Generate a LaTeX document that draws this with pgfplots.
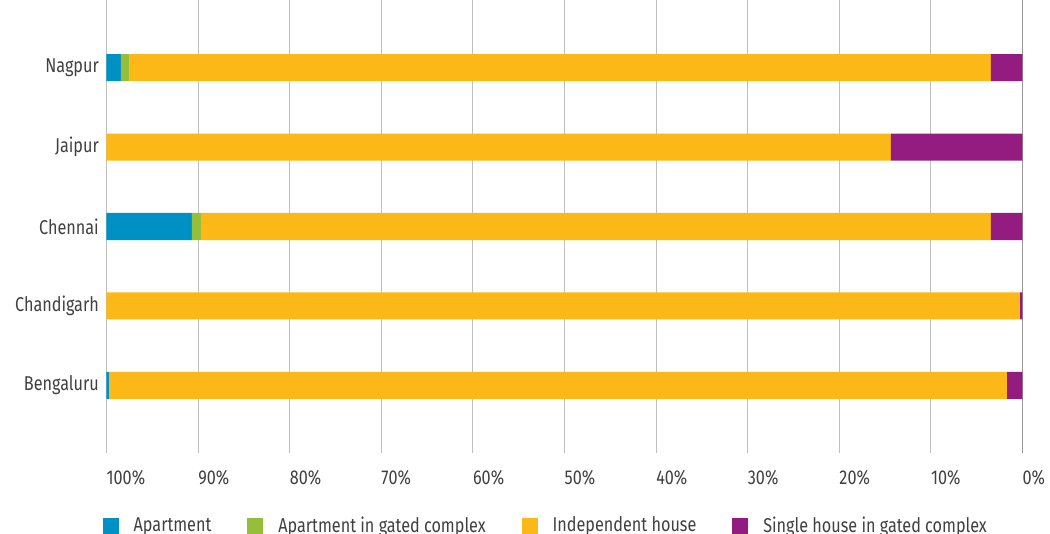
\documentclass[border=0pt]{standalone}
\usepackage{fontspec}
\setmainfont{Fira Sans}[FakeStretch=0.81]
\usepackage{pgfplots}
\pgfplotsset{compat=1.18}
\definecolor{cBlue}{HTML}{0091C4}
\definecolor{cGreen}{HTML}{95BE3B}
\definecolor{cYellow}{HTML}{FBB817}
\definecolor{cPurple}{HTML}{941B80}
\definecolor{txt}{HTML}{404040}
\begin{document}
\fontsize{20}{24}\selectfont
\begin{tikzpicture}
\begin{axis}[
  name=ax,
  scale only axis,
  width=916pt, height=453pt,
  xbar stacked,
  bar width=0.34,
  x dir=reverse,
  xmin=0, xmax=100,
  ymin=-0.85, ymax=4.85,
  axis line style={draw=none},
  xmajorgrids,
  grid style={draw=black!25, line width=1.1pt},
  major tick length=0pt,
  tick style={draw=none},
  xtick={0,10,...,100},
  xticklabels={0\%,10\%,20\%,30\%,40\%,50\%,60\%,70\%,80\%,90\%,100\%},
  xticklabel style={anchor=north west, inner xsep=0pt, inner ysep=0pt, yshift=-17pt, text=txt, font=\fontsize{20}{24}\selectfont},
  ytick={0,1,2,3,4},
  yticklabels={Bengaluru,Chandigarh,Chennai,Jaipur,Nagpur},
  yticklabel style={anchor=east, inner xsep=0pt, xshift=-7.5pt, text=txt, font=\fontsize{20}{24}\selectfont},
  extra x ticks={0},
  extra x tick labels={},
  extra x tick style={grid style={draw=black!40, line width=1.1pt}},
  legend columns=4,
  legend style={draw=none, fill=none, at={(rel axis cs:0,0)}, anchor=west, xshift=-4pt, yshift=-73pt, inner sep=0pt,
    font=\fontsize{20}{24}\selectfont, text=txt,
    /tikz/every odd column/.append style={column sep=13pt},
    /tikz/every even column/.append style={column sep=34pt}},
  legend image code/.code={\fill (0pt,-8pt) rectangle (16pt,8pt);},
]
\addplot[fill=cPurple, draw=none, forget plot] coordinates {(1.69,0) (0.27,1) (3.44,2) (14.36,3) (3.44,4)};
\addplot[fill=cYellow, draw=none, forget plot] coordinates {(98.01,0) (99.73,1) (86.25,2) (85.64,3) (94.03,4)};
\addplot[fill=cGreen, draw=none, forget plot] coordinates {(0,0) (0,1) (0.98,2) (0,3) (0.95,4)};
\addplot[fill=cBlue, draw=none, forget plot] coordinates {(0.30,0) (0,1) (9.33,2) (0,3) (1.58,4)};
\addlegendimage{fill=cBlue, draw=none}
\addlegendentry{Apartment}
\addlegendimage{fill=cGreen, draw=none}
\addlegendentry{Apartment in gated complex}
\addlegendimage{fill=cYellow, draw=none}
\addlegendentry{Independent house}
\addlegendimage{fill=cPurple, draw=none}
\addlegendentry{Single house in gated complex}
\end{axis}
\pgfresetboundingbox
\path (ax.south west) ++(-106.5pt,-81pt) rectangle ++(1050pt,534pt);
\end{tikzpicture}
\end{document}
